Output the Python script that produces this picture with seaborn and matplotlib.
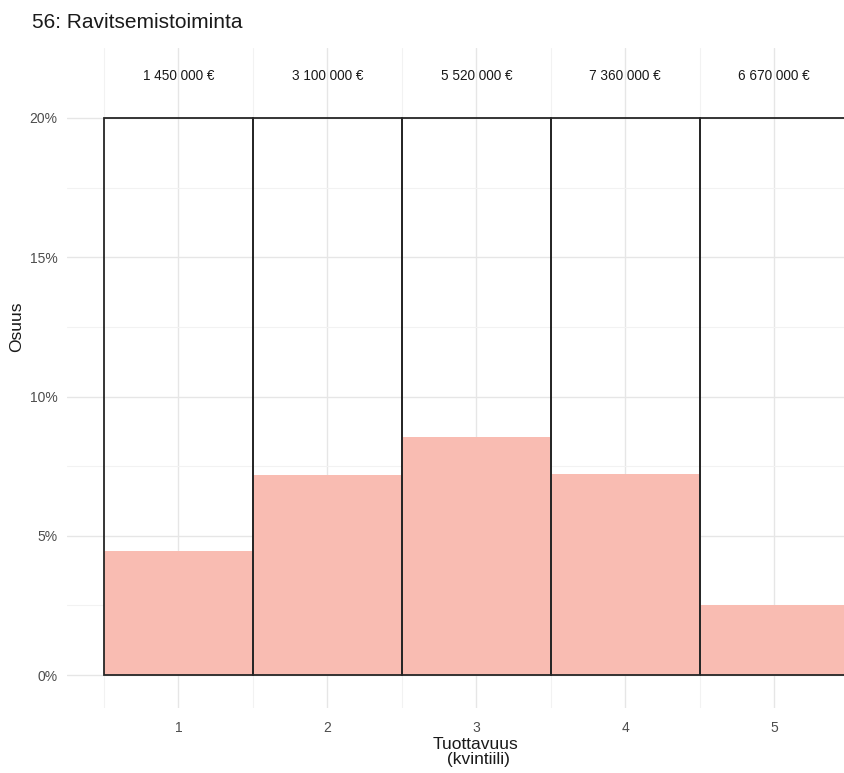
import matplotlib
matplotlib.use("Agg")
import matplotlib.pyplot as plt
import seaborn as sns
import pandas as pd
from matplotlib.ticker import FixedLocator

# Data
quintiles = ["1", "2", "3", "4", "5"]
shares = [0.0447, 0.0718, 0.0853, 0.0722, 0.0253]
amounts = [1450000, 3100000, 5520000, 7360000, 6670000]
full_share = [0.2, 0.2, 0.2, 0.2, 0.2]
title = "56: Ravitsemistoiminta"
ytick_labels = ["0%", "5%", "10%", "15%", "20%"]

df = pd.DataFrame({"q": quintiles, "share": shares, "full": full_share})

sns.set_theme(style="white")
plt.rcParams["font.family"] = ["Liberation Sans", "DejaVu Sans"]

W, H = 845, 773
fig = plt.figure(figsize=(W / 100, H / 100), dpi=100)
left_px, right_px, top_px, bot_px = 67, 886, 48, 708
ax = fig.add_axes([left_px / W, (H - bot_px) / H, (right_px - left_px) / W, (bot_px - top_px) / H])

sns.barplot(data=df, x="q", y="share", color="#F9BCB2", saturation=1, width=1.0,
            linewidth=0, ax=ax, zorder=2)
sns.barplot(data=df, x="q", y="full", fill=False, width=1.0, edgecolor="#262626",
            linewidth=1.3, ax=ax, zorder=3)

ax.set_xlim(-0.748, 4.75)
ax.set_ylim(-0.0118, 0.2251)

# gridlines
ax.yaxis.set_major_locator(FixedLocator([0, 0.05, 0.10, 0.15, 0.20]))
ax.yaxis.set_minor_locator(FixedLocator([0.025, 0.075, 0.125, 0.175]))
ax.xaxis.set_minor_locator(FixedLocator([-0.5, 0.5, 1.5, 2.5, 3.5, 4.5]))
ax.set_yticklabels(ytick_labels)
ax.grid(True, which="major", color="#E6E6E6", linewidth=1.0, zorder=0)
ax.grid(True, which="minor", color="#F2F2F2", linewidth=0.8, zorder=0)
ax.set_axisbelow(True)
for s in ax.spines.values():
    s.set_visible(False)
ax.tick_params(axis="both", which="both", length=0, labelsize=10, colors="#4D4D4D")
ax.tick_params(axis="y", pad=7)
ax.tick_params(axis="x", pad=9)
ax.set_xlabel("")
ax.set_ylabel("")

# value labels
for i, a in enumerate(amounts):
    lab = f"{a:,}".replace(",", " ") + " €"
    ax.text(i, 0.2151, lab, ha="center", va="center", fontsize=9.8, color="#1A1A1A")

fig.text(32 / W, 1 - 22 / H, title, ha="left", va="center", fontsize=15, color="#1A1A1A")
fig.text(476 / W, 1 - 752 / H, "Tuottavuus\n (kvintiili)", ha="center", va="center",
         fontsize=12.5, color="#1A1A1A", linespacing=1.05)
fig.text(17 / W, 1 - 327 / H, "Osuus", ha="center", va="center", rotation=90,
         fontsize=12.5, color="#1A1A1A")

fig.savefig("out.png", dpi=100, facecolor="white")
